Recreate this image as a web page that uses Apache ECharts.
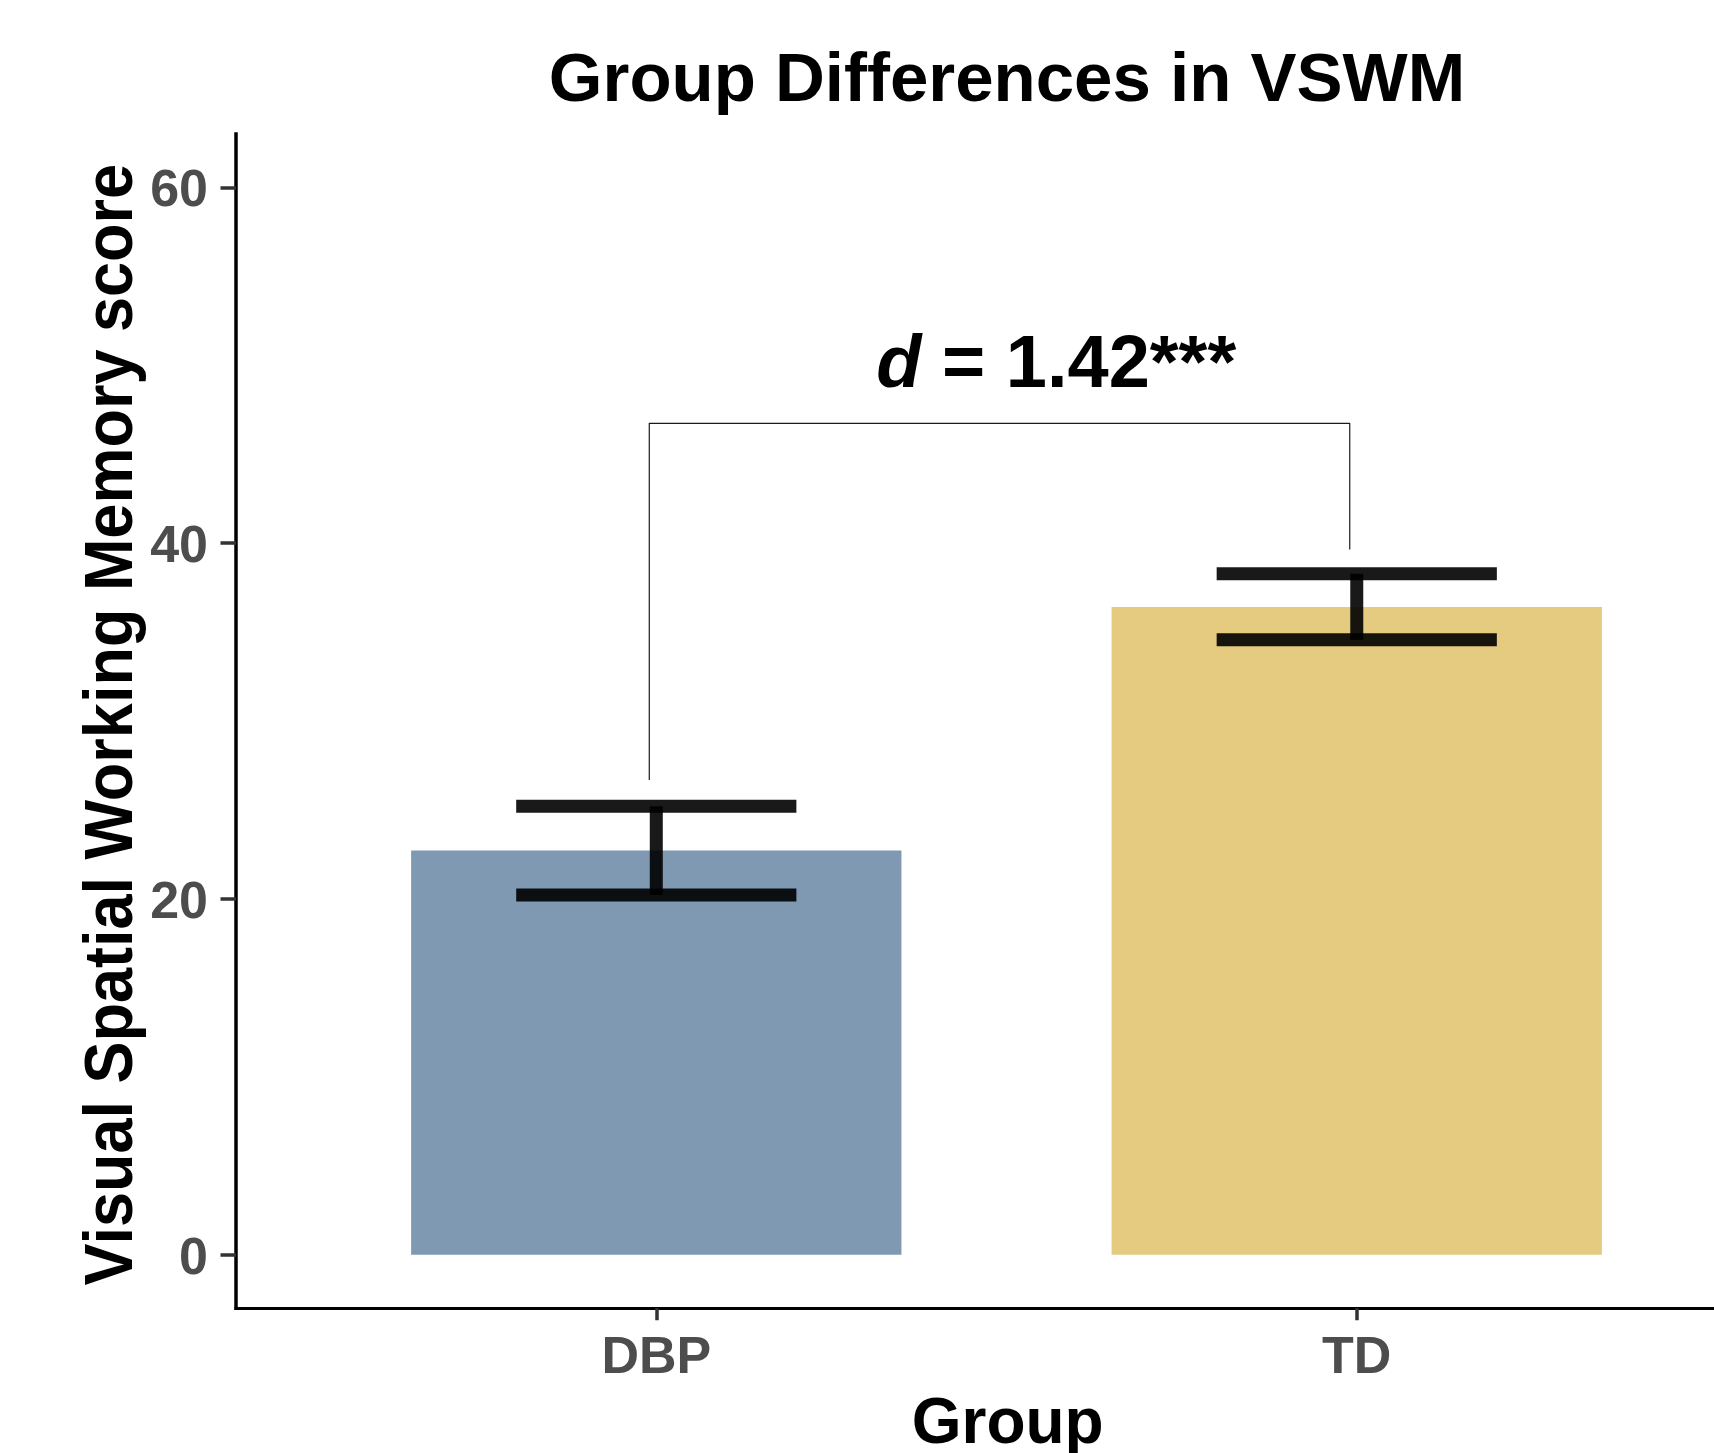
<!DOCTYPE html>
<html>
<head>
<meta charset="utf-8">
<script src="https://cdn.jsdelivr.net/npm/echarts@6/dist/echarts.min.js"></script>
<style>
html,body{margin:0;padding:0;background:#fff;}
#chart{width:1714px;height:1453px;}
</style>
</head>
<body>
<div id="chart"></div>
<script>
// ---------- data ----------
const categories = ['DBP', 'TD'];
const categoryPositions = [1, 2];
const meanScores = [22.72, 36.42];
const errorLow = [20.22, 34.57];
const errorHigh = [25.22, 38.28];
const yTickValues = [0, 20, 40, 60];
const yLimits = [-3, 63];
const xLimits = [0.4, 2.51];
const bracketX = [0.99, 1.99];
const bracketY = [26.69, 46.74, 46.74, 39.65];
const annotationPos = [1.314, 48.5];
const annotationParts = ['d', ' = 1.42***'];
const titleText = 'Group Differences in VSWM';
const xTitle = 'Group';
const yTitle = 'Visual Spatial Working Memory score';

// ---------- styles ----------
const FONT = '"Liberation Sans", Arial, sans-serif';
const barColors = ['#7F99B3', '#E5CB80'];
const BAR_HALF = 0.35;
const CAP_HALF = 0.2;
const ANN_FS = 74;

const chart = echarts.init(document.getElementById('chart'), null, {renderer: 'canvas'});

const barData = categoryPositions.map((x, i) => [x, meanScores[i], i]);
const errData = categoryPositions.map((x, i) => [x, errorLow[i], errorHigh[i]]);
const bracketData = [
  [bracketX[0], bracketY[0]],
  [bracketX[0], bracketY[1]],
  [bracketX[1], bracketY[2]],
  [bracketX[1], bracketY[3]]
];

const option = {
  backgroundColor: '#ffffff',
  animation: false,
  title: {
    text: titleText,
    left: 1007,
    top: 47.5,
    textAlign: 'center',
    textVerticalAlign: 'top',
    padding: 0,
    textStyle: {fontSize: 69, fontWeight: 'bold', color: '#000', fontFamily: FONT, lineHeight: 69}
  },
  grid: {left: 236, right: 0, top: 134, bottom: 144.8, containLabel: false, outerBoundsMode: 'none'},
  xAxis: {
    type: 'value',
    min: xLimits[0],
    max: xLimits[1],
    splitLine: {show: false},
    axisLine: {show: true, onZero: false, lineStyle: {color: '#000', width: 3, cap: 'square'}},
    axisTick: {show: true, customValues: categoryPositions, length: 12, lineStyle: {color: '#333', width: 3.5}},
    axisLabel: {
      show: true, customValues: categoryPositions,
      formatter: v => categories[categoryPositions.indexOf(v)],
      margin: 24.5, fontSize: 52, fontWeight: 'bold', color: '#4d4d4d', fontFamily: FONT, lineHeight: 52
    }
  },
  yAxis: {
    type: 'value',
    min: yLimits[0],
    max: yLimits[1],
    splitLine: {show: false},
    axisLine: {show: true, onZero: false, lineStyle: {color: '#000', width: 3.5, cap: 'square'}},
    axisTick: {show: true, customValues: yTickValues, length: 15.5, lineStyle: {color: '#333', width: 3.5}},
    axisLabel: {
      show: true, customValues: yTickValues,
      margin: 28, fontSize: 52, fontWeight: 'bold', color: '#4d4d4d', fontFamily: FONT,
      verticalAlign: 'top', lineHeight: 9
    }
  },
  graphic: [
    {
      type: 'text', x: 113, y: 724.7, rotation: Math.PI / 2, scaleY: 1.08,
      style: {
        text: yTitle, fontSize: 63, fontWeight: 'bold', fontFamily: FONT, fill: '#000',
        align: 'center', verticalAlign: 'middle', textAlign: 'center', textVerticalAlign: 'middle'
      }
    },
    {
      type: 'text', x: 1007.7, y: 1425.3,
      style: {
        text: xTitle, fontSize: 64, fontWeight: 'bold', fontFamily: FONT, fill: '#000',
        align: 'center', verticalAlign: 'middle', textAlign: 'center', textVerticalAlign: 'middle'
      }
    }
  ],
  series: [
    {
      name: 'bars',
      type: 'custom',
      coordinateSystem: 'cartesian2d',
      data: barData,
      encode: {x: 0, y: 1},
      clip: false,
      z: 2,
      renderItem: (params, api) => {
        const x = api.value(0), v = api.value(1), i = api.value(2);
        const p0 = api.coord([x - BAR_HALF, v]);
        const p1 = api.coord([x + BAR_HALF, 0]);
        return {
          type: 'rect',
          shape: {x: p0[0], y: p0[1], width: p1[0] - p0[0], height: p1[1] - p0[1]},
          style: {fill: barColors[i]}
        };
      }
    },
    {
      name: 'errorbars',
      type: 'custom',
      coordinateSystem: 'cartesian2d',
      data: errData,
      encode: {x: 0, y: [1, 2]},
      clip: false,
      z: 3,
      renderItem: (params, api) => {
        const x = api.value(0), lo = api.value(1), hi = api.value(2);
        const hiL = api.coord([x - CAP_HALF, hi]), hiR = api.coord([x + CAP_HALF, hi]);
        const loL = api.coord([x - CAP_HALF, lo]), loR = api.coord([x + CAP_HALF, lo]);
        const top = api.coord([x, hi]), bot = api.coord([x, lo]);
        const st = () => ({stroke: '#000', lineWidth: 13, opacity: 0.9, lineCap: 'butt', fill: null});
        return {
          type: 'group',
          children: [
            {type: 'line', shape: {x1: hiL[0], y1: hiL[1], x2: hiR[0], y2: hiR[1]}, style: st()},
            {type: 'line', shape: {x1: loL[0], y1: loL[1], x2: loR[0], y2: loR[1]}, style: st()},
            {type: 'line', shape: {x1: top[0], y1: top[1], x2: bot[0], y2: bot[1]}, style: st()}
          ]
        };
      }
    },
    {
      name: 'bracket',
      type: 'line',
      data: bracketData,
      symbol: 'none',
      silent: true,
      z: 4,
      lineStyle: {color: '#1a1a1a', width: 1.2}
    },
    {
      name: 'annotation',
      type: 'custom',
      coordinateSystem: 'cartesian2d',
      data: [annotationPos],
      encode: {x: 0, y: 1},
      clip: false,
      z: 5,
      renderItem: (params, api) => {
        const p = api.coord([api.value(0), api.value(1)]);
        return {
          type: 'text',
          x: p[0],
          y: p[1] - 0.3465 * ANN_FS,
          style: {
            text: '{i|' + annotationParts[0] + '}{n|' + annotationParts[1] + '}',
            rich: {
              i: {fontStyle: 'italic', fontWeight: 'bold', fontSize: ANN_FS, fontFamily: FONT, fill: '#000', lineHeight: ANN_FS},
              n: {fontWeight: 'bold', fontSize: ANN_FS, fontFamily: FONT, fill: '#000', lineHeight: ANN_FS}
            },
            fontSize: ANN_FS, fontWeight: 'bold', fontFamily: FONT, fill: '#000',
            align: 'left', verticalAlign: 'middle', textAlign: 'left', textVerticalAlign: 'middle'
          }
        };
      }
    }
  ]
};

chart.setOption(option);
</script>
</body>
</html>
